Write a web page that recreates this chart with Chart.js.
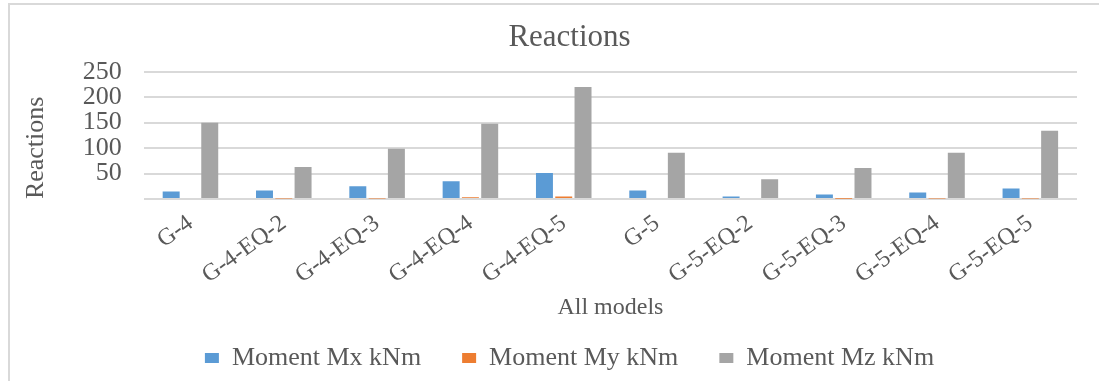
<!DOCTYPE html>
<html>
<head>
<meta charset="utf-8">
<script src="https://cdn.jsdelivr.net/npm/chart.js@4.4.0/dist/chart.umd.min.js"></script>
<style>
  body { margin: 0; background: #fff; overflow: hidden; }
  .frame { position: absolute; left: 8px; top: 3px; width: 1200px; height: 500px; border: 2px solid #d9d9d9; }
  .wrap { position: absolute; left: 0; top: 0; width: 1099px; height: 381px; }
</style>
</head>
<body>
<div class="frame"></div>
<div class="wrap"><canvas id="reactionsChart" width="1099" height="381"></canvas></div>
<script>
// Data
const models = ['G-4', 'G-4-EQ-2', 'G-4-EQ-3', 'G-4-EQ-4', 'G-4-EQ-5', 'G-5', 'G-5-EQ-2', 'G-5-EQ-3', 'G-5-EQ-4', 'G-5-EQ-5'];
const momentMx = [15, 17, 25, 35, 51, 17, 5, 9, 13, 21];
const momentMy = [0, 1, 1, 3.5, 5, 0, 0, 0.5, 1, 1];
const momentMz = [150, 63, 99, 148, 220, 91, 39, 61, 91, 134];
const yTicks = [0, 50, 100, 150, 200, 250];

const serif = '"Liberation Serif", "Times New Roman", serif';
const textColor = '#595959';

const ctx = document.getElementById('reactionsChart').getContext('2d');

new Chart(ctx, {
  type: 'bar',
  data: {
    labels: models,
    datasets: [
      { label: 'Moment Mx kNm', data: momentMx, backgroundColor: '#5B9BD5' },
      { label: 'Moment My kNm', data: momentMy, backgroundColor: '#ED7D31' },
      { label: 'Moment Mz kNm', data: momentMz, backgroundColor: '#A5A5A5' }
    ]
  },
  options: {
    responsive: false,
    animation: false,
    // wide left padding shifts the legend/title right; y title pulls back with negative padding
    layout: { padding: { left: 62, right: 22, top: 4, bottom: 0 } },
    datasets: {
      bar: { categoryPercentage: 0.62, barPercentage: 0.88 }
    },
    scales: {
      x: {
        grid: { display: false },
        border: { display: false },
        ticks: {
          color: textColor,
          font: { family: serif, size: 24 },
          maxRotation: 36,
          minRotation: 36,
          padding: 2
        },
        title: {
          display: true,
          text: 'All models',
          color: textColor,
          font: { family: serif, size: 24 },
          padding: { top: 2, bottom: -18.4 }
        }
      },
      y: {
        min: yTicks[0],
        max: yTicks[yTicks.length - 1],
        afterBuildTicks: (axis) => { axis.ticks = yTicks.map(v => ({ value: v })); },
        grid: { color: '#d9d9d9', lineWidth: 2, drawTicks: false },
        border: { display: false },
        ticks: {
          color: textColor,
          font: { family: serif, size: 26 },
          padding: 22,
          autoSkip: false,
          callback: (v) => (v === 0 ? '' : v)
        },
        title: {
          display: true,
          text: 'Reactions',
          align: 'start',
          color: textColor,
          font: { family: serif, size: 26 },
          padding: { top: -41.6, bottom: 9.2 }
        }
      }
    },
    plugins: {
      title: {
        display: true,
        text: 'Reactions',
        color: textColor,
        font: { family: serif, size: 31, weight: 'normal' },
        padding: { top: 15, bottom: 15.5 }
      },
      legend: {
        position: 'bottom',
        labels: {
          color: textColor,
          font: { family: serif, size: 26 },
          boxWidth: 14,
          boxHeight: 10,
          padding: 41
        }
      },
      tooltip: { enabled: true }
    }
  }
});
</script>
</body>
</html>
